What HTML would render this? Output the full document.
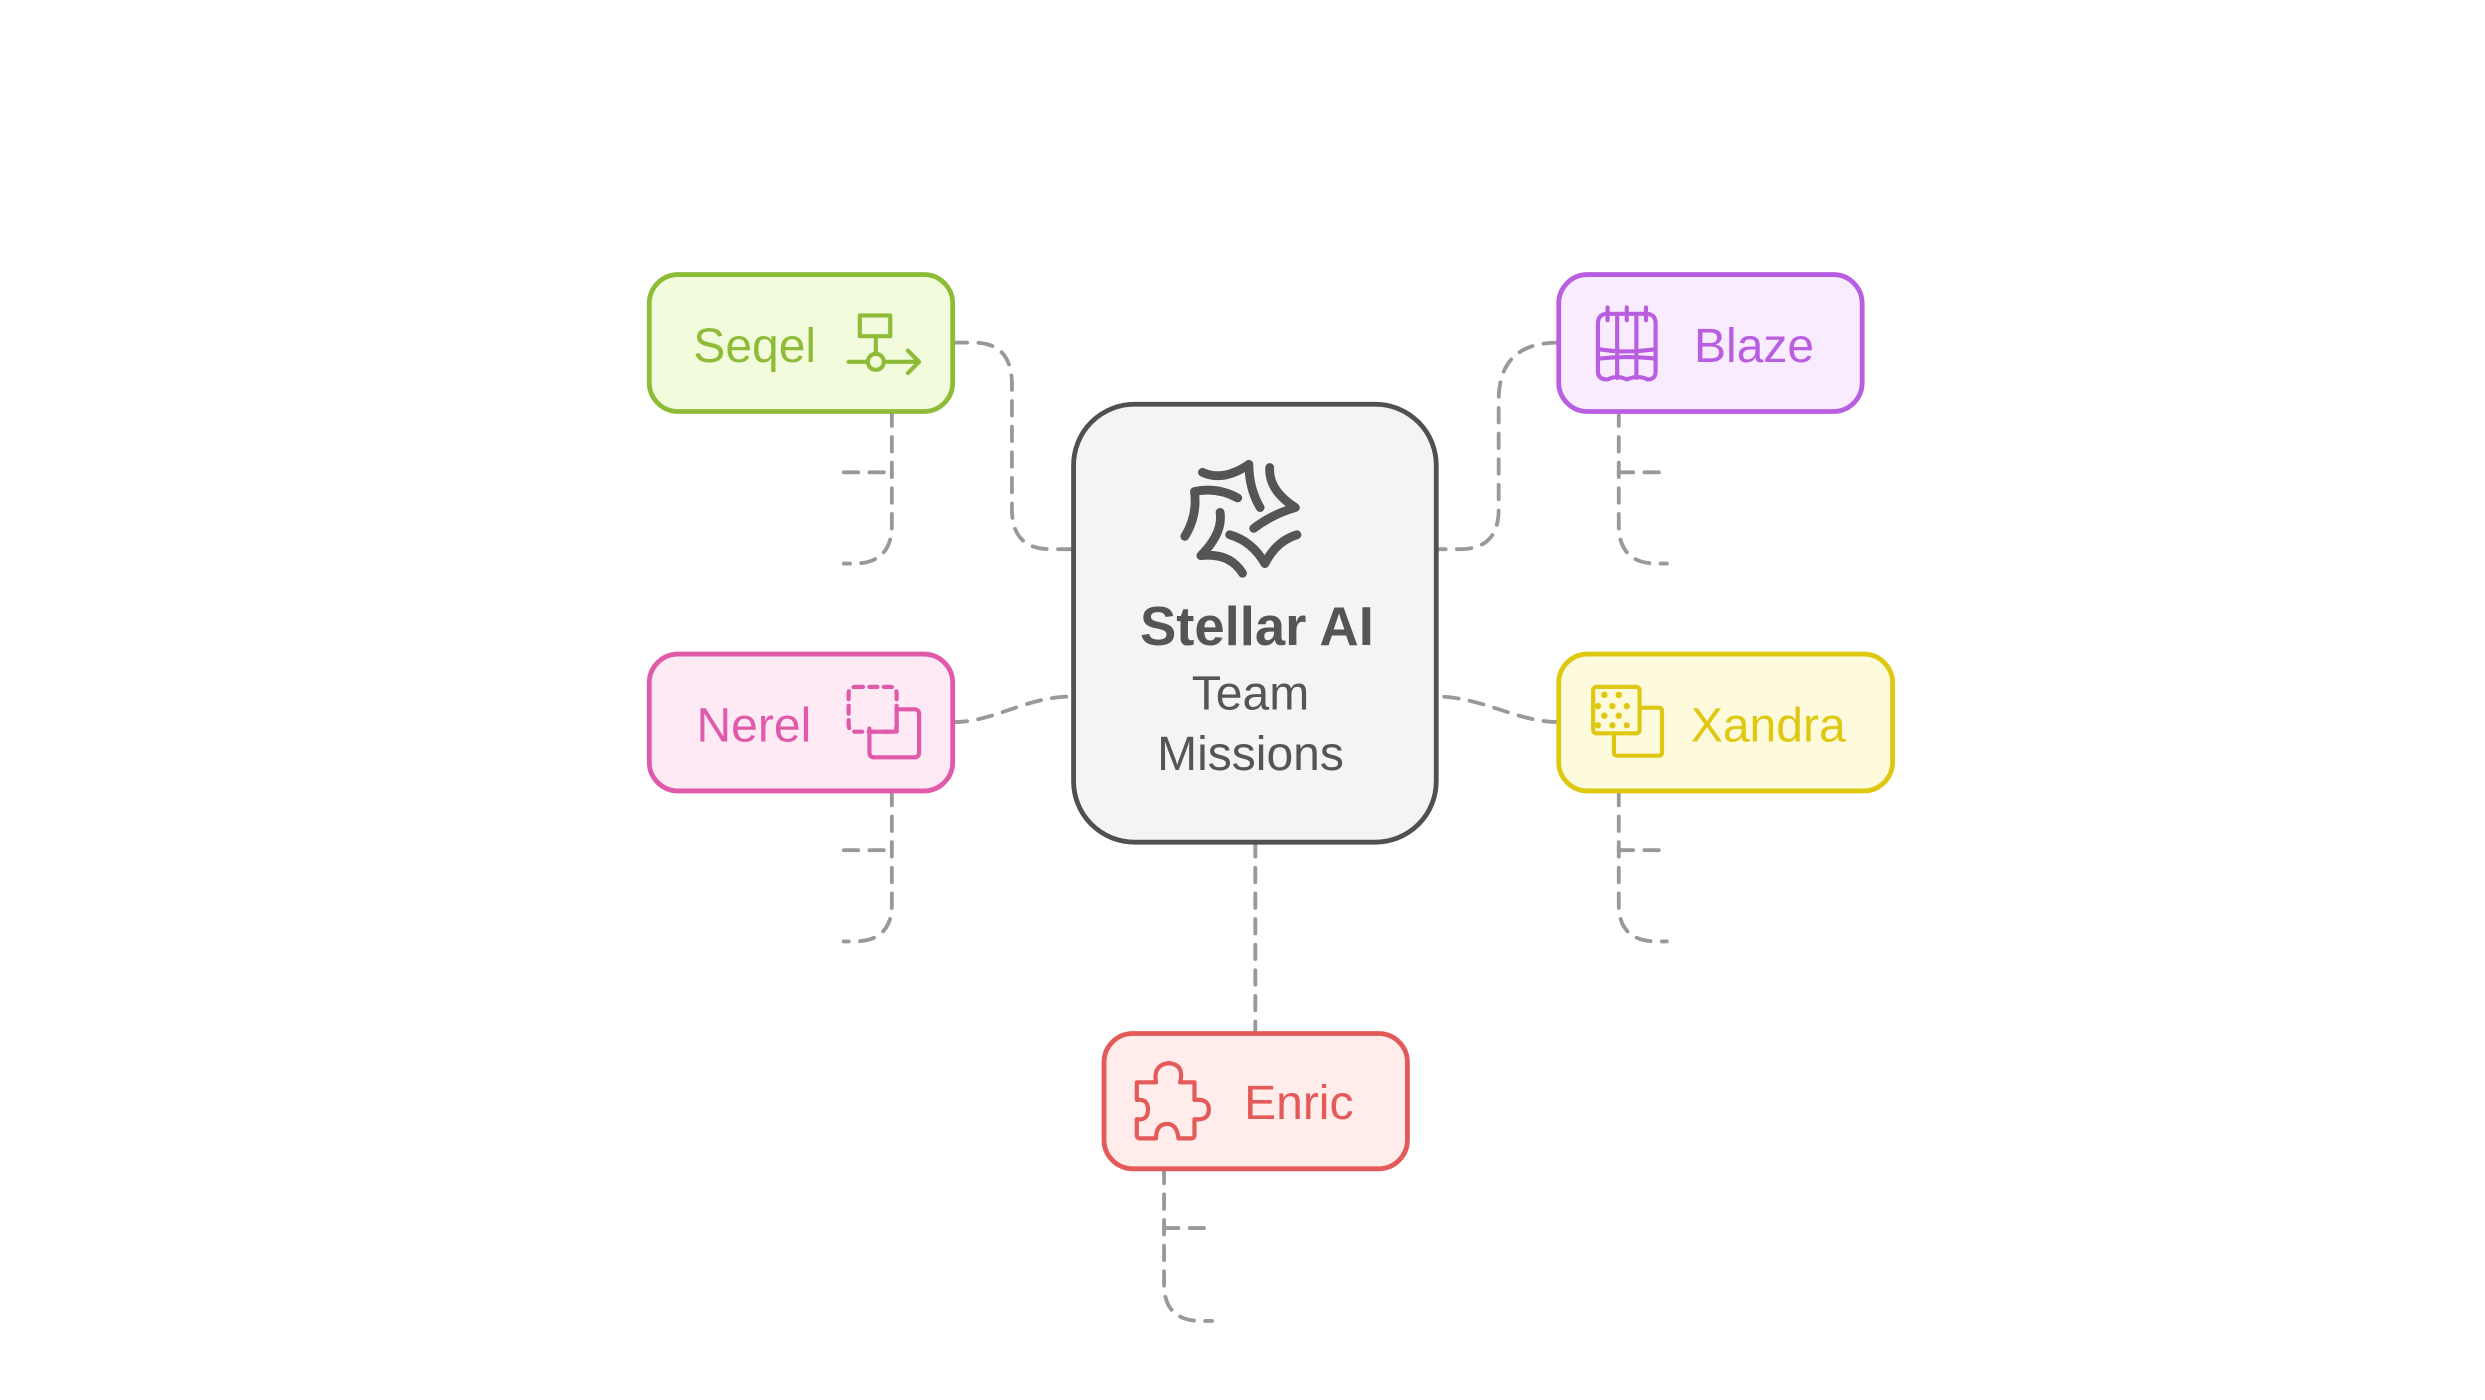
<!DOCTYPE html>
<html><head><meta charset="utf-8"><style>
html,body{margin:0;padding:0;background:#fff;width:2485px;height:1400px;overflow:hidden}
svg{display:block}
text{font-family:"Liberation Sans",sans-serif}
</style></head><body>
<svg width="2485" height="1400" viewBox="0 0 1552 874.4" preserveAspectRatio="none" xmlns="http://www.w3.org/2000/svg">
<g fill="none" stroke="#999" stroke-width="2.4" stroke-dasharray="9 7" stroke-linecap="round">
<path d="M595,214 H608 Q632,214 632,240 V318 Q632,343 656,343 H670"/>
<path d="M557,257 V328 Q557,352 533,352 H527"/>
<path d="M527,295 H557"/>
<path d="M595,451 C622,451 640,435 670,435"/>
<path d="M557,494 V565 Q557,588 533,588 H527"/>
<path d="M527,531 H557"/>
<path d="M973,214 Q936,214 936,250 V318 Q936,343 912,343 H897"/>
<path d="M1011,257 V328 Q1011,352 1035,352 H1041"/>
<path d="M1011,295 H1041"/>
<path d="M973,451 C948,451 925,435 897,435"/>
<path d="M1011,494 V565 Q1011,588 1035,588 H1041"/>
<path d="M1011,531 H1041"/>
<path d="M784,526 V645"/>
<path d="M727,730 V802 Q727,825 750,825 H757"/>
<path d="M727,767 H757"/>
</g>

<!-- center -->
<rect x="670.5" y="252.5" width="226.5" height="273.5" rx="38" fill="#f4f4f4" stroke="#505050" stroke-width="3"/>
<g fill="none" stroke="#555" stroke-width="5.5" stroke-linecap="round" stroke-linejoin="round">
<path d="M751,295 Q764,301 780,290 Q780,305 787,317"/>
<path d="M793,292 Q792,306 809,317 Q795,321 783,330"/>
<path d="M773,311 Q760,304 746,307 Q748,322 740,335"/>
<path d="M762,320 Q764,333 750,347 Q768,345 776,358"/>
<path d="M768,334 Q782,338 790,352 Q797,338 810,334"/>
</g>
<text x="785" y="403" text-anchor="middle" font-size="34" font-weight="bold" fill="#555">Stellar AI</text>
<text x="781" y="443" text-anchor="middle" font-size="30" fill="#555">Team</text>
<text x="781" y="481" text-anchor="middle" font-size="30" fill="#555">Missions</text>

<!-- Seqel -->
<rect x="405.5" y="171.5" width="189.5" height="85.5" rx="18" fill="#f2fcdc" stroke="#8fbc38" stroke-width="3"/>
<text x="433" y="226" font-size="30" fill="#8fbc38">Seqel</text>
<g fill="none" stroke="#8fbc38" stroke-width="2.6" stroke-linecap="round" stroke-linejoin="round">
<rect x="537" y="197" width="19" height="13"/>
<path d="M547,210 V221 M530,226 H542 M552,226 H574 M567,219 L574,226 L567,233"/>
<circle cx="547" cy="226" r="5"/>
</g>

<!-- Nerel -->
<rect x="405.5" y="408.5" width="189.5" height="85.5" rx="18" fill="#fdeaf5" stroke="#e05aa9" stroke-width="3"/>
<text x="435" y="463" font-size="30" fill="#e05aa9">Nerel</text>
<g fill="none" stroke="#e05aa9" stroke-width="2.6" stroke-linecap="round" stroke-linejoin="round">
<rect x="530" y="429" width="30" height="28" rx="4" stroke-dasharray="5 4"/>
<path d="M543,455 V470 Q543,473 546,473 H571 Q574,473 574,470 V446 Q574,443 571,443 H560 V457 H543"/>
</g>

<!-- Blaze -->
<rect x="973.5" y="171.5" width="189.5" height="85.5" rx="18" fill="#f9ecfe" stroke="#b95ee0" stroke-width="3"/>
<text x="1058" y="226" font-size="30" fill="#b95ee0">Blaze</text>
<g fill="none" stroke="#b95ee0" stroke-width="2.6" stroke-linecap="round" stroke-linejoin="round">
<path d="M998,202 Q998,196 1004,196 H1028 Q1034,196 1034,202 V232 Q1034,237 1029,237 Q1023,234 1016,237 Q1010,234 1004,237 Q998,237 998,232 Z"/>
<path d="M998,218 Q1016,221 1034,218 M998,224 Q1016,222 1034,224 M1010,198 V236 M1022,198 V236 M1004,192 V200 M1016,192 V200 M1028,192 V200"/>
</g>

<!-- Xandra -->
<rect x="973.5" y="408.5" width="208.5" height="85.5" rx="18" fill="#fefadc" stroke="#dfc812" stroke-width="3"/>
<text x="1056" y="463" font-size="30" fill="#dfc812">Xandra</text>
<g fill="none" stroke="#dfc812" stroke-width="2.6" stroke-linejoin="round">
<rect x="995" y="429" width="29" height="29" rx="2"/>
<path d="M1024,442 H1036 Q1038,442 1038,444 V470 Q1038,472 1036,472 H1010 Q1008,472 1008,470 V458"/>
</g>
<g fill="#dfc812">
<circle cx="1002" cy="434" r="2"/><circle cx="1011" cy="434" r="2"/>
<circle cx="998" cy="441" r="2"/><circle cx="1007" cy="441" r="2"/><circle cx="1016" cy="441" r="2"/>
<circle cx="1002" cy="447" r="2"/><circle cx="1011" cy="447" r="2"/>
<circle cx="998" cy="453" r="2"/><circle cx="1007" cy="453" r="2"/><circle cx="1016" cy="453" r="2"/>
</g>

<!-- Enric -->
<rect x="689.5" y="645.5" width="189.5" height="84.5" rx="18" fill="#ffeceb" stroke="#e35a58" stroke-width="3"/>
<text x="777" y="699" font-size="30" fill="#e35a58">Enric</text>
<g fill="none" stroke="#e35a58" stroke-width="2.6" stroke-linejoin="round">
<path d="M710,676 H722 Q720,665 730,664 Q740,665 737,676 H746 V687 Q755,686 755,693 Q755,700 746,699 V709 Q746,711 744,711 H736 Q735,702 729,702 Q722,702 722,711 H712 Q710,711 710,709 V699 Q717,700 717,693 Q717,686 710,687 Z"/>
</g>
</svg>
</body></html>
